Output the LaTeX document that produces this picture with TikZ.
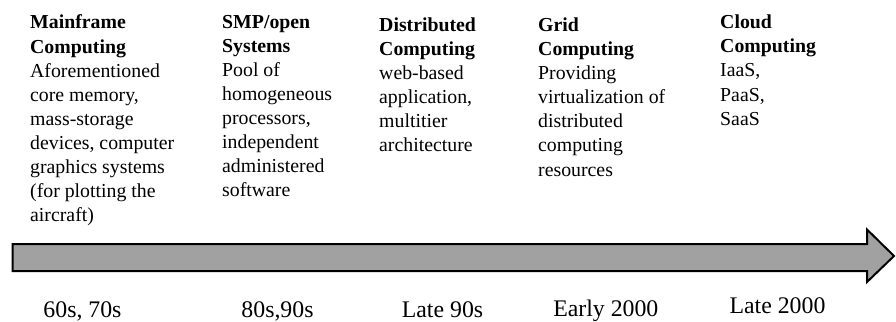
\documentclass[tikz,border=0pt]{standalone}
\usepackage{fontspec}
\setmainfont{Liberation Serif}
\begin{document}
\begin{tikzpicture}[x=1pt,y=-1pt,
  txt/.style={font=\fontsize{19.8}{24.1}\selectfont, inner sep=0pt, align=left, anchor=north west},
  era/.style={font=\fontsize{23.8}{26}\selectfont, inner sep=0pt, anchor=base},
  timeline/.style={draw=black, line width=2pt, fill=black!37, line join=miter}]
\useasboundingbox (0,0) rectangle (896,321);

% the time arrow
\draw[timeline] (12.5,244) -- (867,244) -- (867,229.5) -- (894,256) -- (867,282)
  -- (867,271) -- (12.5,271) -- cycle;

% eras above the arrow
\node[txt] (mainframe) at (30,14.8) {\textbf{Mainframe}\\\textbf{Computing}\\Aforementioned\\core memory,\\mass-storage\\devices, computer\\graphics systems\\(for plotting the\\aircraft)};
\node[txt] (smp) at (222,14.8) {\textbf{SMP/open}\\\textbf{Systems}\\Pool of\\homogeneous\\processors,\\independent\\administered\\software};
\node[txt] (distributed) at (379,17.5) {\textbf{Distributed}\\\textbf{Computing}\\web-based\\application,\\multitier\\architecture};
\node[txt] (grid) at (538,17.5) {\textbf{Grid}\\\textbf{Computing}\\Providing\\virtualization of\\distributed\\computing\\resources};
\node[txt] (cloud) at (720,14.8) {\textbf{Cloud}\\\textbf{Computing}\\IaaS,\\PaaS,\\SaaS};

% dates below the arrow
\node[era] (d1) at (82.5,317) {60s, 70s};
\node[era] (d2) at (277.5,317) {80s,90s};
\node[era] (d3) at (442.5,317) {Late 90s};
\node[era] (d4) at (605.8,316.7) {Early 2000};
\node[era] (d5) at (777.5,313.5) {Late 2000};
\end{tikzpicture}
\end{document}
